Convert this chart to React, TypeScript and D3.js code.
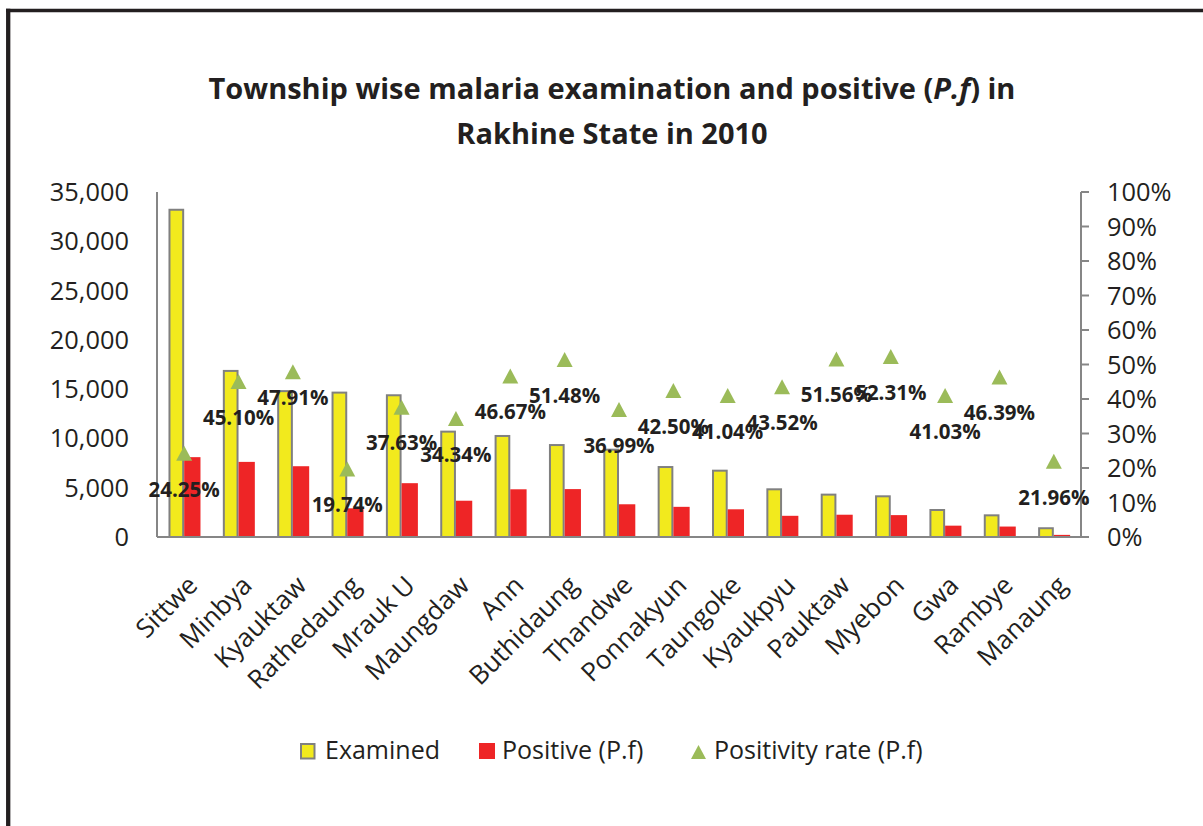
import React from 'react';
import * as d3 from 'd3';

const townships = ['Sittwe', 'Minbya', 'Kyauktaw', 'Rathedaung', 'Mrauk U', 'Maungdaw', 'Ann', 'Buthidaung', 'Thandwe', 'Ponnakyun', 'Taungoke', 'Kyaukpyu', 'Pauktaw', 'Myebon', 'Gwa', 'Rambye', 'Manaung'];
const examined = [33300, 16950, 14900, 14750, 14480, 10790, 10350, 9430, 8960, 7200, 6830, 4940, 4400, 4230, 2840, 2300, 990];
const positive = [8100, 7620, 7180, 2910, 5460, 3680, 4840, 4860, 3320, 3060, 2810, 2150, 2260, 2220, 1150, 1060, 215];
const positivityRate = [24.25, 45.10, 47.91, 19.74, 37.63, 34.34, 46.67, 51.48, 36.99, 42.50, 41.04, 43.52, 51.56, 52.31, 41.03, 46.39, 21.96];
const leftTicks = [0, 5000, 10000, 15000, 20000, 25000, 30000, 35000];
const rightTicks = [0, 10, 20, 30, 40, 50, 60, 70, 80, 90, 100];
const titleLines = ['Township wise malaria examination and positive (', 'Rakhine State in 2010'];
const legendLabels = ['Examined', 'Positive (P.f)', 'Positivity rate (P.f)'];

const FONT = "'Open Sans', 'DejaVu Sans', sans-serif";
const TEXT = '#231f20';
const AXIS = '#868686';
const YELLOW = '#f2ea1d';
const RED = '#ee2526';
const GREEN = '#9bbb59';

export default function App() {
  const left = 157, right = 1081, top = 192, bottom = 537;
  const x = d3.scaleBand<string>().domain(townships).range([left, right]).padding(0);
  const y = d3.scaleLinear().domain([0, 35000]).range([bottom, top]);
  const yr = d3.scaleLinear().domain([0, 100]).range([bottom, top]);
  const fmt = d3.format(',');
  const barW = 15.7;
  const tri = (cx: number, cy: number, w = 16, h = 15) =>
    `M${cx - w / 2},${cy + h / 2}L${cx},${cy - h / 2}L${cx + w / 2},${cy + h / 2}Z`;
  const labelNudge: Record<string, number> = { Kyauktaw: -10 };

  return (
    <svg width={1203} height={826} style={{ position: 'absolute', left: 0, top: 0, background: '#fff' }} fontFamily={FONT}>
      <rect x={0} y={0} width={1203} height={826} fill="#fff" />
      {/* frame */}
      <line x1={6} x2={1203} y1={10.5} y2={10.5} stroke={TEXT} strokeWidth={3.6} />
      <line x1={8.2} x2={8.2} y1={8.7} y2={826} stroke={TEXT} strokeWidth={4.3} />

      {/* title */}
      <text x={612} y={99} textAnchor="middle" fontSize={29} fontWeight="bold" fill={TEXT}>
        {titleLines[0]}<tspan fontStyle="italic">P.f</tspan>{') in'}
      </text>
      <text x={612} y={144} textAnchor="middle" fontSize={29} fontWeight="bold" fill={TEXT}>
        {titleLines[1]}
      </text>

      {/* bars */}
      {townships.map((t, i) => {
        const cx = (x(t) as number) + x.bandwidth() / 2;
        return (
          <g key={t}>
            <rect x={cx - barW + 1} y={y(examined[i]) + 1} width={barW - 2} height={bottom - y(examined[i]) - 1}
              fill={YELLOW} stroke="#808080" strokeWidth={2} />
            <rect x={cx} y={y(positive[i])} width={barW + 0.6} height={bottom - y(positive[i])} fill={RED} />
          </g>
        );
      })}

      {/* axes */}
      <line x1={left} x2={left} y1={top} y2={bottom} stroke={AXIS} strokeWidth={2} />
      <line x1={right} x2={right} y1={top} y2={bottom} stroke={AXIS} strokeWidth={2} />
      <line x1={left} x2={right} y1={bottom} y2={bottom} stroke={AXIS} strokeWidth={2} />
      {rightTicks.map(v => (
        <line key={v} x1={right} x2={right + 8} y1={yr(v)} y2={yr(v)} stroke={AXIS} strokeWidth={2} />
      ))}
      {leftTicks.map(v => (
        <text key={v} x={129} y={y(v) + 9} textAnchor="end" fontSize={25.4} fill={TEXT}>{fmt(v)}</text>
      ))}
      {rightTicks.map(v => (
        <text key={v} x={1107} y={yr(v) + 9} textAnchor="start" fontSize={25.4} fill={TEXT}>{v + '%'}</text>
      ))}

      {/* category labels */}
      {townships.map(t => {
        const cx = (x(t) as number) + x.bandwidth() / 2;
        return (
          <text key={t} transform={`translate(${cx + 15},${587}) rotate(-45)`} textAnchor="end" fontSize={26} fill={TEXT}>{t}</text>
        );
      })}

      {/* positivity rate markers and labels */}
      {townships.map((t, i) => {
        const cx = (x(t) as number) + x.bandwidth() / 2;
        const cy = yr(positivityRate[i]);
        return (
          <g key={t}>
            <path d={tri(cx, cy)} fill={GREEN} />
            <text x={cx} y={cy + 36 + 7.3 + (labelNudge[t] || 0)} textAnchor="middle" fontSize={20.5} fontWeight="bold" fill={TEXT}>
              {positivityRate[i].toFixed(2) + '%'}
            </text>
          </g>
        );
      })}

      {/* legend */}
      <rect x={301} y={744} width={13.5} height={14.5} fill={YELLOW} stroke="#808080" strokeWidth={2} />
      <text x={325} y={759} fontSize={25} fill={TEXT}>{legendLabels[0]}</text>
      <rect x={479} y={743} width={16} height={16} fill={RED} />
      <text x={502} y={759} fontSize={25} fill={TEXT}>{legendLabels[1]}</text>
      <path d={tri(698.5, 752, 15, 14)} fill={GREEN} />
      <text x={714} y={759} fontSize={25} fill={TEXT}>{legendLabels[2]}</text>
    </svg>
  );
}
